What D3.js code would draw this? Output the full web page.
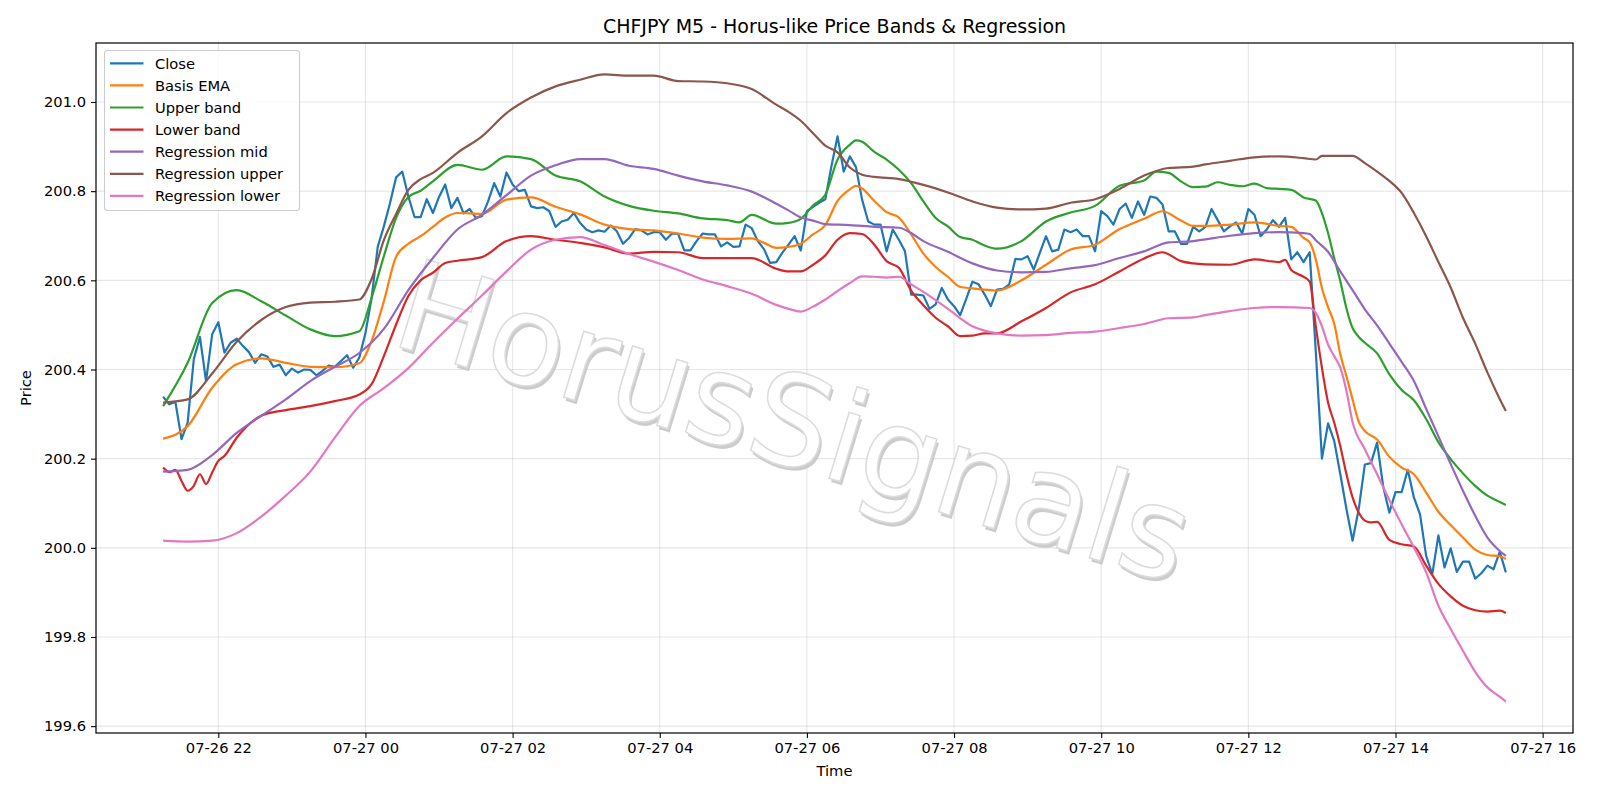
<!DOCTYPE html>
<meta charset="utf-8">
<title>CHFJPY M5 - Horus-like Price Bands & Regression</title>
<script src="https://cdn.jsdelivr.net/npm/d3@7"></script>
<style>
  body { margin: 0; background: #fff; }
  text { font-family: "DejaVu Sans", sans-serif; }
</style>
<body>
<script>

// bars are 5 minutes apart, first bar 07-26 21:15
var startTime = Date.UTC(2025, 6, 26, 21, 15)
   ,barMinutes = 5;

var closeVals = [
  200.339,200.322,200.327,200.244,200.281,200.423,200.473,200.374,200.479,200.506,
  200.438,200.460,200.469,200.453,200.439,200.415,200.434,200.429,200.406,200.411,
  200.387,200.402,200.393,200.400,200.399,200.387,200.397,200.409,200.406,200.419,
  200.432,200.404,200.427,200.482,200.560,200.675,200.721,200.773,200.831,200.844,
  200.788,200.742,200.742,200.782,200.751,200.787,200.815,200.762,200.785,200.750,
  200.760,200.740,200.744,200.777,200.818,200.788,200.842,200.815,200.800,200.803,
  200.766,200.762,200.764,200.755,200.720,200.732,200.736,200.751,200.729,200.714,
  200.708,200.712,200.709,200.723,200.710,200.682,200.695,200.715,200.712,200.703,
  200.708,200.708,200.691,200.705,200.704,200.667,200.667,200.688,200.705,200.703,
  200.703,200.676,200.685,200.675,200.676,200.725,200.717,200.688,200.670,200.639,
  200.641,200.662,200.680,200.699,200.667,200.755,200.765,200.774,200.782,200.856,
  200.923,200.844,200.878,200.854,200.781,200.732,200.725,200.725,200.665,200.714,
  200.691,200.665,200.568,200.568,200.566,200.536,200.546,200.583,200.557,200.542,
  200.522,200.559,200.597,200.591,200.568,200.542,200.579,200.581,200.591,200.648,
  200.647,200.654,200.624,200.662,200.699,200.665,200.669,200.714,200.708,200.714,
  200.699,200.699,200.665,200.755,200.744,200.725,200.760,200.772,200.740,200.777,
  200.747,200.788,200.785,200.770,200.710,200.710,200.682,200.682,200.720,200.710,
  200.720,200.760,200.735,200.710,200.721,200.730,200.705,200.760,200.747,200.699,
  200.714,200.735,200.720,200.740,200.647,200.663,200.641,200.663,200.440,200.200,
  200.279,200.240,200.165,200.087,200.016,200.087,200.187,200.190,200.236,200.137,
  200.079,200.125,200.125,200.175,200.113,200.075,199.982,199.941,200.028,199.956,
  199.999,199.946,199.969,199.969,199.931,199.943,199.960,199.952,199.991,199.945
];

// smooth series: [bar index, price]
var emaPts = [[0,200.245],[4,200.273],[8,200.359],[12,200.412],[16,200.425],[20,200.415],[24,200.406],[28,200.405],[32,200.414],[34,200.464],[36,200.553],[38,200.653],[40,200.682],[42,200.699],[44,200.720],[46,200.741],[48,200.751],[52,200.749],[56,200.781],[60,200.786],[64,200.765],[68,200.748],[72,200.725],[76,200.715],[80,200.712],[84,200.705],[88,200.696],[92,200.693],[96,200.694],[98,200.684],[100,200.673],[102,200.675],[104,200.682],[106,200.703],[108,200.724],[110,200.778],[112,200.804],[113,200.812],[114,200.806],[116,200.778],[118,200.753],[120,200.741],[122,200.703],[124,200.660],[126,200.630],[128,200.608],[130,200.585],[132,200.582],[134,200.579],[136,200.577],[140,200.600],[144,200.635],[148,200.669],[152,200.680],[156,200.715],[160,200.738],[163,200.755],[166,200.734],[168,200.722],[170,200.722],[174,200.725],[178,200.730],[182,200.722],[184,200.720],[186,200.695],[187,200.685],[188,200.647],[189,200.583],[190,200.540],[191,200.503],[192,200.434],[193,200.385],[194,200.333],[195,200.283],[196,200.262],[198,200.243],[200,200.204],[202,200.180],[204,200.165],[206,200.124],[208,200.081],[210,200.051],[212,200.023],[214,199.996],[216,199.984],[218,199.981],[219,199.975]];

var upperPts = [[0,200.318],[4,200.415],[8,200.549],[12,200.578],[16,200.553],[20,200.521],[24,200.490],[28,200.475],[32,200.486],[34,200.561],[36,200.654],[38,200.740],[40,200.787],[42,200.801],[44,200.822],[48,200.859],[52,200.848],[56,200.878],[60,200.872],[64,200.835],[68,200.822],[72,200.788],[76,200.767],[80,200.756],[84,200.750],[88,200.739],[92,200.735],[94,200.730],[96,200.747],[100,200.727],[102,200.729],[104,200.738],[106,200.768],[108,200.792],[110,200.871],[112,200.904],[113,200.914],[114,200.911],[116,200.888],[118,200.871],[120,200.848],[122,200.818],[124,200.777],[126,200.740],[128,200.721],[130,200.697],[132,200.691],[134,200.678],[136,200.671],[140,200.688],[144,200.732],[148,200.752],[152,200.767],[156,200.812],[160,200.824],[162,200.844],[164,200.841],[166,200.822],[168,200.809],[170,200.810],[172,200.820],[174,200.814],[176,200.811],[178,200.817],[180,200.807],[182,200.805],[184,200.803],[186,200.786],[188,200.779],[189,200.751],[190,200.706],[191,200.650],[192,200.598],[193,200.537],[194,200.493],[195,200.473],[196,200.460],[198,200.436],[200,200.389],[202,200.354],[204,200.331],[206,200.289],[208,200.237],[210,200.199],[212,200.167],[214,200.139],[216,200.117],[218,200.103],[219,200.096]];

var lowerPts = [[0,200.180],[1,200.170],[2,200.175],[3,200.150],[4,200.128],[5,200.139],[6,200.165],[7,200.143],[8,200.169],[9,200.195],[10,200.206],[12,200.247],[16,200.296],[20,200.309],[24,200.318],[28,200.329],[32,200.344],[34,200.367],[36,200.430],[38,200.501],[40,200.565],[42,200.600],[44,200.617],[46,200.639],[48,200.644],[52,200.652],[56,200.688],[60,200.699],[64,200.691],[68,200.684],[72,200.674],[76,200.660],[80,200.664],[84,200.663],[88,200.650],[92,200.650],[96,200.650],[100,200.626],[102,200.620],[104,200.620],[106,200.635],[108,200.656],[110,200.691],[112,200.706],[114,200.704],[116,200.680],[118,200.643],[120,200.628],[122,200.577],[124,200.544],[126,200.516],[128,200.497],[130,200.475],[132,200.476],[134,200.481],[136,200.481],[140,200.508],[144,200.538],[148,200.573],[152,200.591],[156,200.620],[160,200.649],[163,200.663],[166,200.643],[168,200.638],[170,200.636],[174,200.635],[178,200.647],[182,200.641],[183,200.646],[184,200.623],[186,200.608],[187,200.597],[188,200.497],[189,200.404],[190,200.326],[191,200.281],[192,200.228],[193,200.165],[194,200.113],[195,200.079],[196,200.061],[197,200.057],[198,200.058],[200,200.018],[202,200.008],[204,200.003],[206,199.960],[208,199.919],[210,199.891],[212,199.870],[214,199.860],[216,199.857],[218,199.859],[219,199.854]];

var regMidPts = [[0,200.171],[4,200.175],[8,200.208],[12,200.258],[16,200.296],[20,200.333],[24,200.374],[28,200.406],[32,200.437],[36,200.491],[40,200.578],[44,200.650],[48,200.714],[52,200.747],[56,200.791],[60,200.835],[64,200.858],[68,200.872],[72,200.872],[76,200.857],[80,200.850],[84,200.835],[88,200.822],[92,200.813],[96,200.799],[100,200.772],[102,200.757],[104,200.741],[106,200.734],[108,200.726],[112,200.724],[116,200.720],[120,200.718],[122,200.706],[124,200.688],[128,200.664],[132,200.638],[136,200.622],[140,200.618],[144,200.619],[148,200.627],[152,200.634],[156,200.650],[160,200.665],[164,200.685],[168,200.688],[170,200.692],[174,200.700],[178,200.706],[182,200.708],[186,200.706],[187,200.704],[188,200.690],[190,200.664],[192,200.620],[194,200.578],[196,200.535],[198,200.499],[200,200.458],[202,200.417],[204,200.374],[206,200.312],[208,200.250],[210,200.188],[212,200.128],[214,200.072],[216,200.023],[218,199.993],[219,199.982]];

var regUpperPts = [[0,200.326],[4,200.333],[8,200.391],[12,200.462],[16,200.511],[20,200.540],[24,200.550],[28,200.552],[32,200.557],[34,200.603],[36,200.690],[38,200.749],[40,200.803],[42,200.827],[44,200.841],[48,200.886],[52,200.923],[56,200.975],[60,201.010],[64,201.035],[68,201.050],[72,201.062],[76,201.059],[80,201.059],[84,201.047],[88,201.046],[92,201.042],[96,201.029],[100,200.994],[102,200.978],[104,200.958],[106,200.930],[108,200.902],[110,200.887],[112,200.853],[114,200.837],[116,200.832],[120,200.827],[124,200.814],[128,200.797],[132,200.777],[136,200.763],[140,200.759],[144,200.761],[148,200.774],[152,200.782],[156,200.805],[160,200.835],[164,200.852],[168,200.855],[170,200.860],[174,200.868],[178,200.876],[182,200.878],[186,200.874],[188,200.871],[189,200.879],[192,200.879],[194,200.879],[196,200.863],[198,200.844],[200,200.823],[202,200.796],[204,200.751],[206,200.699],[208,200.641],[210,200.584],[212,200.516],[214,200.458],[216,200.393],[218,200.334],[219,200.307]];

var regLowerPts = [[0,200.016],[4,200.014],[8,200.016],[12,200.033],[16,200.070],[20,200.117],[24,200.171],[28,200.247],[32,200.318],[36,200.358],[40,200.403],[44,200.460],[48,200.514],[52,200.566],[56,200.620],[60,200.669],[64,200.691],[68,200.697],[72,200.679],[76,200.659],[80,200.642],[84,200.623],[88,200.602],[92,200.587],[96,200.570],[100,200.545],[102,200.536],[104,200.530],[106,200.541],[108,200.557],[110,200.576],[112,200.594],[114,200.609],[116,200.608],[118,200.606],[120,200.608],[122,200.591],[124,200.574],[128,200.536],[132,200.497],[136,200.481],[140,200.476],[144,200.477],[148,200.482],[152,200.485],[156,200.493],[160,200.502],[164,200.515],[168,200.517],[170,200.522],[174,200.531],[178,200.538],[182,200.540],[187,200.538],[188,200.527],[189,200.497],[190,200.456],[191,200.430],[192,200.404],[193,200.352],[194,200.282],[196,200.221],[198,200.165],[200,200.107],[202,200.053],[204,200.001],[206,199.945],[208,199.870],[210,199.818],[212,199.769],[214,199.722],[216,199.687],[218,199.666],[219,199.655]];

var yTicks = [199.6, 199.8, 200.0, 200.2, 200.4, 200.6, 200.8, 201.0];

var titleText = "CHFJPY M5 - Horus-like Price Bands & Regression"
   ,xLabel = "Time"
   ,yLabel = "Price"
   ,watermark = "HorusSignals";

var W = 1600, H = 800
   ,m = {left: 96, right: 1573, top: 43, bottom: 733}
   ,fs = 14.7;

function barTime(i) { return new Date(startTime + i * barMinutes * 60000); }

var series = [
  {name: "Close",            color: "#1f77b4", pts: closeVals.map(function (v, i) { return [i, v]; }), curve: d3.curveLinear},
  {name: "Basis EMA",        color: "#ff7f0e", pts: emaPts,      curve: d3.curveMonotoneX},
  {name: "Upper band",       color: "#2ca02c", pts: upperPts,    curve: d3.curveMonotoneX},
  {name: "Lower band",       color: "#d62728", pts: lowerPts,    curve: d3.curveMonotoneX},
  {name: "Regression mid",   color: "#9467bd", pts: regMidPts,   curve: d3.curveMonotoneX},
  {name: "Regression upper", color: "#8c564b", pts: regUpperPts, curve: d3.curveMonotoneX},
  {name: "Regression lower", color: "#e377c2", pts: regLowerPts, curve: d3.curveMonotoneX}
];

// matplotlib-like 5% margins
var allVals = [];
series.forEach(function (s) { s.pts.forEach(function (p) { allVals.push(p[1]); }); });
var yExt = d3.extent(allVals)
   ,yPad = (yExt[1] - yExt[0]) * 0.05
   ,t0 = +barTime(0)
   ,t1 = +barTime(closeVals.length - 1)
   ,tPad = (t1 - t0) * 0.05;

var x = d3.scaleUtc().domain([new Date(t0 - tPad), new Date(t1 + tPad)]).range([m.left, m.right]);
var y = d3.scaleLinear().domain([yExt[0] - yPad, yExt[1] + yPad]).range([m.bottom, m.top]);
var xTicks = x.ticks(d3.utcHour.every(2));

var svg = d3.select("body").append("svg")
            .attr("width", W)
            .attr("height", H);

svg.append("rect").attr("width", W).attr("height", H).attr("fill", "#fff");

// grid
var grid = svg.append("g").attr("stroke", "#b0b0b0").attr("stroke-opacity", 0.3).attr("stroke-width", 1.1);
grid.selectAll(".gx").data(xTicks).enter().append("line")
  .attr("x1", function (d) { return x(d); }).attr("x2", function (d) { return x(d); })
  .attr("y1", m.top).attr("y2", m.bottom);
grid.selectAll(".gy").data(yTicks).enter().append("line")
  .attr("y1", function (d) { return y(d); }).attr("y2", function (d) { return y(d); })
  .attr("x1", m.left).attr("x2", m.right);

// watermark
var wm = svg.append("g")
  .attr("transform", "translate(794,422) rotate(17)")
  .attr("opacity", 0.85);
wm.append("text")
  .attr("x", 3).attr("y", 3)
  .attr("text-anchor", "middle").attr("dominant-baseline", "central")
  .style("font-size", "126px")
  .attr("fill", "#c4c4c4")
  .text(watermark);
wm.append("text")
  .attr("text-anchor", "middle").attr("dominant-baseline", "central")
  .style("font-size", "126px")
  .attr("fill", "#ffffff")
  .attr("stroke", "#d6d6d6")
  .attr("stroke-width", 1.5)
  .text(watermark);

// lines
svg.append("defs").append("clipPath").attr("id", "clip")
  .append("rect").attr("x", m.left).attr("y", m.top)
  .attr("width", m.right - m.left).attr("height", m.bottom - m.top);

var lines = svg.append("g").attr("clip-path", "url(#clip)");
series.forEach(function (s) {
  var line = d3.line()
    .curve(s.curve)
    .x(function (p) { return x(barTime(p[0])); })
    .y(function (p) { return y(p[1]); });
  lines.append("path")
    .datum(s.pts)
    .attr("fill", "none")
    .attr("stroke", s.color)
    .attr("stroke-width", 2.2)
    .attr("stroke-linejoin", "round")
    .attr("d", line);
});

// axes
var xAxis = svg.append("g")
  .attr("transform", "translate(0," + m.bottom + ")")
  .call(d3.axisBottom(x).tickValues(xTicks).tickFormat(d3.utcFormat("%m-%d %H"))
        .tickSize(5).tickPadding(5).tickSizeOuter(0));
var yAxis = svg.append("g")
  .attr("transform", "translate(" + m.left + ",0)")
  .call(d3.axisLeft(y).tickValues(yTicks).tickFormat(d3.format(".1f"))
        .tickSize(5).tickPadding(5).tickSizeOuter(0));
[xAxis, yAxis].forEach(function (a) {
  a.select(".domain").remove();
  a.selectAll("text").style("font-size", fs + "px").attr("fill", "#000");
  a.selectAll(".tick line").attr("stroke", "#000").attr("stroke-width", 1.1);
});

// spines
svg.append("rect")
  .attr("x", m.left).attr("y", m.top)
  .attr("width", m.right - m.left).attr("height", m.bottom - m.top)
  .attr("fill", "none").attr("stroke", "#000").attr("stroke-width", 1.2);

// title and labels
svg.append("text")
  .attr("x", (m.left + m.right) / 2).attr("y", 33)
  .attr("text-anchor", "middle")
  .style("font-size", "19px")
  .text(titleText);
svg.append("text")
  .attr("x", (m.left + m.right) / 2).attr("y", 776)
  .attr("text-anchor", "middle")
  .style("font-size", fs + "px")
  .text(xLabel);
svg.append("text")
  .attr("transform", "translate(31," + (m.top + m.bottom) / 2 + ") rotate(-90)")
  .attr("text-anchor", "middle")
  .style("font-size", fs + "px")
  .text(yLabel);

// legend
var lg = svg.append("g");
lg.append("rect")
  .attr("x", 104.5).attr("y", 50.5)
  .attr("width", 195).attr("height", 160)
  .attr("rx", 3)
  .attr("fill", "#fff").attr("fill-opacity", 0.8)
  .attr("stroke", "#cccccc").attr("stroke-width", 1.1);
var rows = lg.selectAll(".row").data(series).enter().append("g")
  .attr("transform", function (d, i) { return "translate(0," + (63.3 + i * 22.1) + ")"; });
rows.append("line")
  .attr("x1", 110).attr("x2", 143.5)
  .attr("stroke", function (d) { return d.color; })
  .attr("stroke-width", 2.2);
rows.append("text")
  .attr("x", 155).attr("dy", "0.36em")
  .style("font-size", fs + "px")
  .text(function (d) { return d.name; });

</script>
</body>
